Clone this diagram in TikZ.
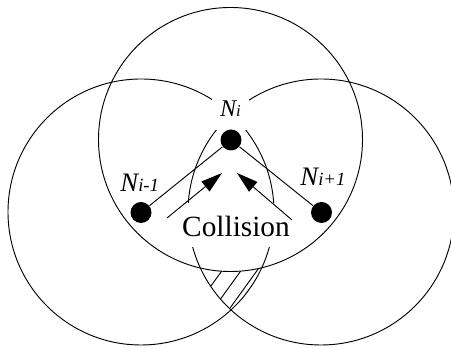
\documentclass[tikz,border=0pt]{standalone}
\usepackage{fontspec}
\setmainfont{Liberation Serif}
\usetikzlibrary{arrows.meta}
\begin{document}
\begin{tikzpicture}[x=0.75pt,y=-0.75pt,line width=0.7pt,
  dot/.style={circle,fill=black,inner sep=0pt,minimum size=15.75pt},
  mask/.style={fill=white,inner ysep=0pt,anchor=base},
  nlab/.style={inner sep=0pt,anchor=base west,font=\fontsize{20}{20}\selectfont\itshape},
  arr/.style={-{Triangle[length=16pt,width=9.5pt]}}]
\useasboundingbox (0,0) rectangle (451,348);
% coverage circles
\draw (230.5,139.5) circle[radius=99pt];
\draw (141,212) circle[radius=99.75pt];
\draw (321,212) circle[radius=99.75pt];
% hatched region
\begin{scope}[even odd rule]
  \clip (141,212) circle[radius=99.75pt];
  \clip (321,212) circle[radius=99.75pt];
  \clip (0,0) rectangle (451,348) (230.5,139.5) circle[radius=99pt];
  \foreach \x in {221,240,256,262} \draw (\x+14.4,252) -- (\x-36,322);
\end{scope}
% labels
\node[mask,inner xsep=6pt,text height=16.5pt,text depth=9.75pt,
      font=\fontsize{18}{18}\selectfont\itshape] (lni) at (230.5,117) {N\fontsize{12.5}{12.5}\selectfont i};
\node[mask,inner xsep=3pt,text height=25.5pt,text depth=7.5pt,
      font=\fontsize{22}{22}\selectfont] (coll) at (236,237) {Collision};
\node[nlab] (lnim) at (120,192) {N\fontsize{14}{14}\selectfont i-1};
\node[nlab] (lnip) at (300,186) {N\fontsize{14}{14}\selectfont i+1};
% nodes
\node[dot] (ni) at (231,140) {};
\node[dot] (nim) at (141,212.5) {};
\node[dot] (nip) at (321.5,212.5) {};
\draw (ni) -- (nim);
\draw (ni) -- (nip);
% arrows
\coordinate (t1) at (167,218);
\coordinate (h1) at (222,173);
\coordinate (t2) at (292,220);
\coordinate (h2) at (237,173);
\draw[arr] (t1) -- (h1);
\draw[arr] (t2) -- (h2);
\end{tikzpicture}
\end{document}
